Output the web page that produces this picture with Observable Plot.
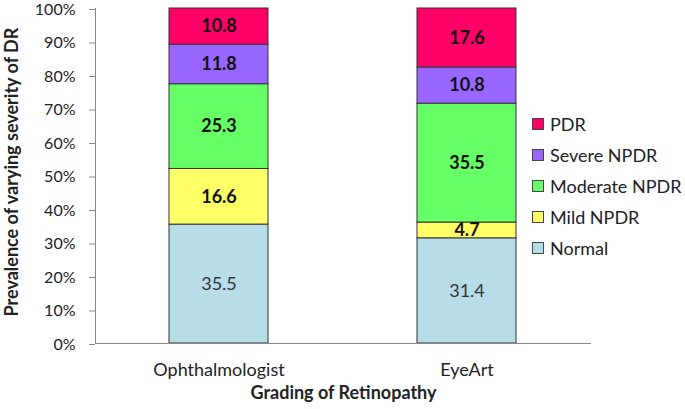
<!DOCTYPE html>
<html>
<head>
<meta charset="utf-8">
<script src="https://cdn.jsdelivr.net/npm/d3@7"></script>
<script src="https://cdn.jsdelivr.net/npm/@observablehq/plot@0.6"></script>
<style>
  html, body { margin: 0; padding: 0; background: #fff; }
  #wrap { position: relative; width: 685px; height: 409px; font-family: Lato, sans-serif; }
  #legend { position: absolute; left: 532px; top: 108px; }
  .li { display: flex; align-items: center; height: 31.2px; font-size: 18px; color: #222; white-space: nowrap; }
  .sw { width: 10px; height: 10px; border: 1px solid #444; margin-right: 6px; }
</style>
</head>
<body>
<div id="wrap"><div id="legend"></div></div>
<script>
const graders = ["Ophthalmologist", "EyeArt"];
const severities = ["Normal", "Mild NPDR", "Moderate NPDR", "Severe NPDR", "PDR"];
const colors = ["#B7DDE8", "#FFFF66", "#66FF66", "#9966FF", "#FF0066"];
const ophthalmologistValues = [35.5, 16.6, 25.3, 11.8, 10.8];
const eyeArtValues = [31.4, 4.7, 35.5, 10.8, 17.6];
const yTicks = [0, 10, 20, 30, 40, 50, 60, 70, 80, 90, 100];

const seriesByGrader = {"Ophthalmologist": ophthalmologistValues, "EyeArt": eyeArtValues};
const data = [];
for (const g of graders) {
  severities.forEach((s, i) => data.push({grader: g, severity: s, value: seriesByGrader[g][i]}));
}

const font = "Lato, sans-serif";
const labelOpts = (test, extra) => Plot.stackY({
  x: "grader", y: "value", z: "severity", order: severities,
  text: d => test(d) ? d.value.toFixed(1) : "",
  fontSize: 18,
  ...extra
});
const chart = Plot.plot({
  width: 685,
  height: 409,
  marginLeft: 95,
  marginRight: 94,
  marginTop: 8,
  marginBottom: 66,
  style: {fontFamily: font, fontSize: "16px", color: "#222", background: "#fff"},
  x: {domain: graders, paddingInner: 0.6, paddingOuter: 0.3, label: null},
  y: {domain: [0, 100], label: null},
  color: {domain: severities, range: colors},
  marks: [
    Plot.barY(data, {x: "grader", y: "value", fill: "severity", stroke: "#333", strokeWidth: 1, order: severities}),
    Plot.text(data, labelOpts(d => d.severity === "Normal", {fill: "#333"})),
    Plot.text(data, labelOpts(d => d.severity !== "Normal", {fontWeight: "bold", fill: "#111"})),
    Plot.axisY({ticks: yTicks, tickFormat: d => d + "%", tickSize: 6, tickPadding: 14, stroke: "#888", fontSize: 16, dy: 1, label: null}),
    Plot.axisX({tickSize: 0, tickPadding: 20, fontSize: 18, label: null}),
    Plot.frame({anchor: "left", stroke: "#888"}),
    Plot.ruleY([0], {stroke: "#888"}),
    Plot.text(["Grading of Retinopathy"], {frameAnchor: "bottom", dy: 55, fontSize: 18, fontWeight: "bold", fill: "#222"}),
    Plot.text(["Prevalence of varying severity of DR"], {frameAnchor: "left", textAnchor: "middle", dx: -83, dy: -4, rotate: -90, fontSize: 18, fontWeight: "bold", fill: "#222"})
  ]
});
document.getElementById("wrap").prepend(chart);

const legend = document.getElementById("legend");
for (let i = severities.length - 1; i >= 0; i--) {
  const row = document.createElement("div");
  row.className = "li";
  const sw = document.createElement("span");
  sw.className = "sw";
  sw.style.background = colors[i];
  row.appendChild(sw);
  row.appendChild(document.createTextNode(severities[i]));
  legend.appendChild(row);
}
</script>
</body>
</html>
